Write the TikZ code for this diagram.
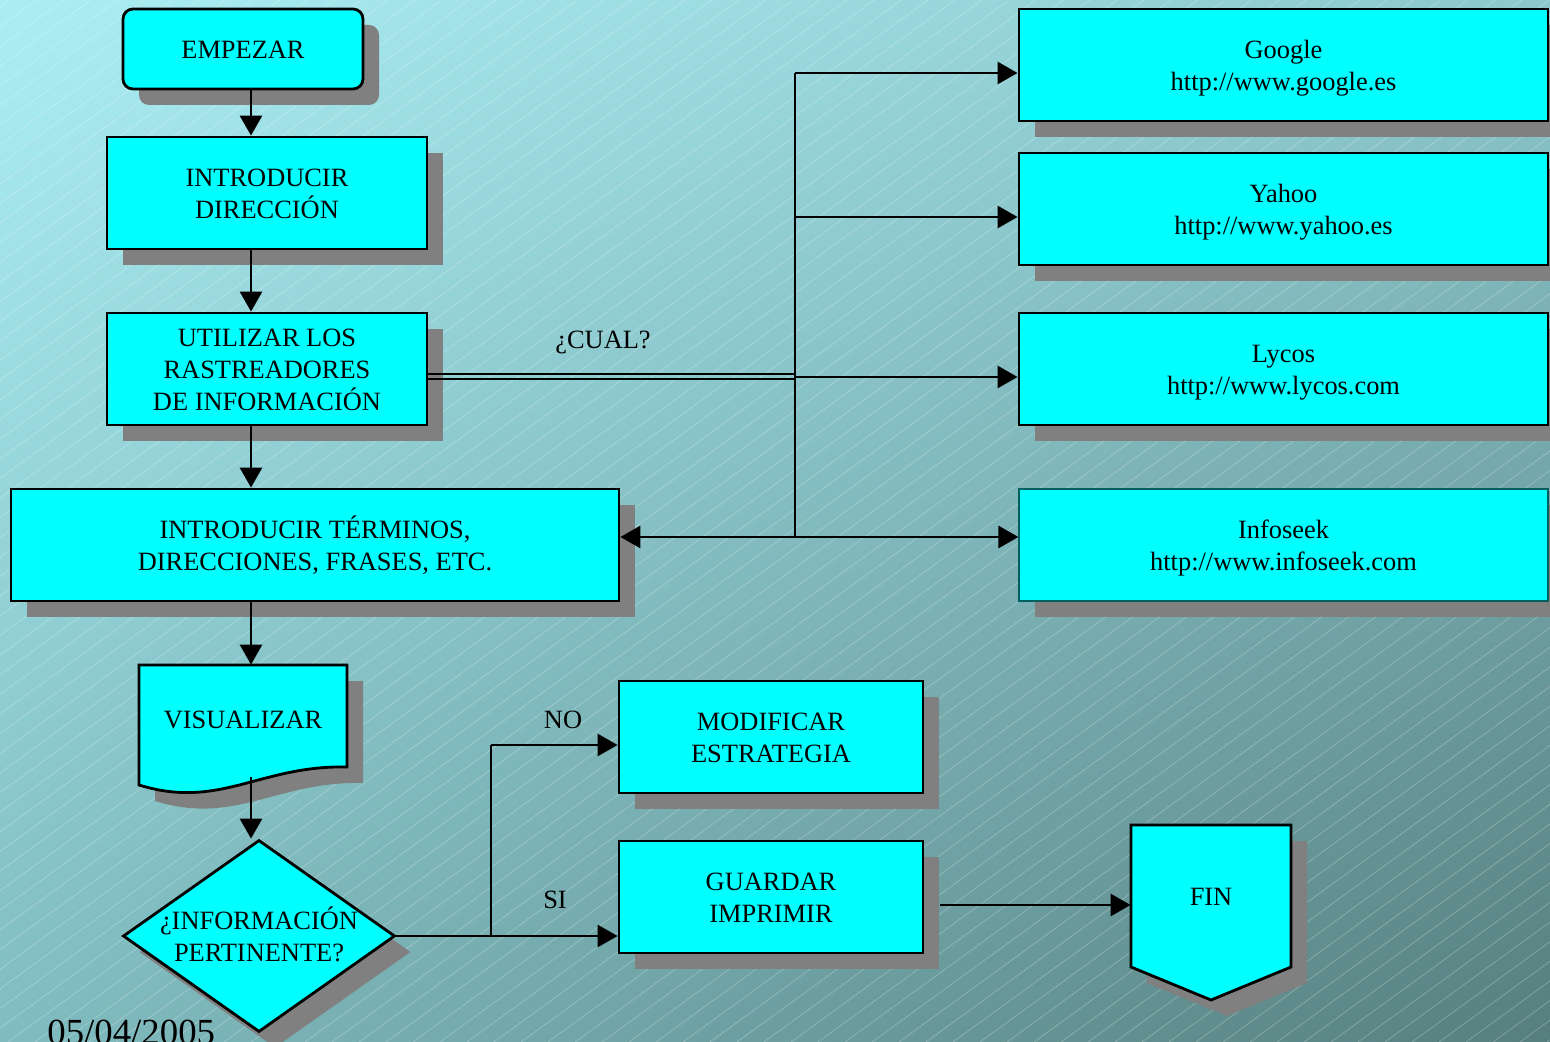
\documentclass[tikz,border=0pt]{standalone}
\usepackage{fontspec}
\setmainfont{Liberation Serif}
\usetikzlibrary{positioning}
\usetikzlibrary{arrows.meta}
\usetikzlibrary{shapes.geometric}
\usetikzlibrary{shadows}
\usetikzlibrary{shadings}
\usetikzlibrary{calc}

\definecolor{bgtl}{RGB}{170,238,244}
\definecolor{bgtr}{RGB}{140,200,205}
\definecolor{bgbl}{RGB}{128,188,192}
\definecolor{bgbr}{RGB}{86,126,126}
\definecolor{boxc}{RGB}{0,255,255}
\definecolor{shadc}{RGB}{128,128,128}
\definecolor{thinc}{RGB}{0,96,96}

\newcommand\docpath{(139,665) -- (347,665) -- (347,767) .. controls (260,765) and (220,810) .. (139,785) -- cycle}
\newcommand\finpath{(1131,825) -- (1291,825) -- (1291,967) -- (1211,1000) -- (1131,967) -- cycle}

\begin{document}
\begin{tikzpicture}[x=0.5pt, y=-0.5pt,
	txt/.style={font=\fontsize{13.2}{16}\selectfont, align=center, inner sep=0pt, text height=11.9pt, text depth=2.2pt},
	two/.style={text height=27.9pt},
	three/.style={text height=43.9pt},
	shadowed/.style={drop shadow={shadow xshift=8pt, shadow yshift=-8pt, fill=shadc, opacity=1}},
	box/.style={rectangle, draw=black, line width=1.4pt, fill=boxc, txt, shadowed},
	engine/.style={box, two, minimum width=264.5pt, minimum height=56pt},
	stepbox/.style={box, minimum width=160pt, minimum height=56pt},
	shapefill/.style={draw=black, line width=1.4pt, fill=boxc},
	line/.style={draw=black, line width=1.4pt},
	arrow/.style={line, -{Triangle[length=10pt, width=11pt]}}
]

% Background
\useasboundingbox (0,0) rectangle (1550,1042);
\shade[upper left=bgtl, upper right=bgtr, lower left=bgbl, lower right=bgbr] (0,0) rectangle (1550,1042);
\begin{scope}
	\clip (0,0) rectangle (1550,1042);
	\foreach \i in {-1450,-1423,...,1560}
		\draw[white, opacity=0.3, line width=0.3pt] (\i,1042) -- (\i+1433,0);
\end{scope}

% Left column
\node[box, rounded corners=5pt, minimum width=120pt, minimum height=40pt] (start) at (243,49) {EMPEZAR};
\node[stepbox, two] (intro) at (267,193) {INTRODUCIR\\DIRECCIÓN};
\node[stepbox, three] (util) at (267,369) {UTILIZAR LOS\\RASTREADORES\\DE INFORMACIÓN};
\node[box, two, minimum width=304pt, minimum height=56pt] (term) at (315,545) {INTRODUCIR TÉRMINOS,\\DIRECCIONES, FRASES, ETC.};

% Document shape
\fill[shadc, shift={(16,16)}] \docpath;
\draw[shapefill] \docpath;
\node[txt, minimum width=104pt, minimum height=54pt] (vis) at (243,719) {VISUALIZAR};

% Decision
\node[diamond, shapefill, aspect=1.4167, inner sep=0pt, minimum width=136pt, minimum height=96pt, shadowed] (dec) at (259,936) {};
\node[txt, two] (tdec) at (dec.center) {¿INFORMACIÓN\\PERTINENTE?};

% Search engines
\node[engine] (google) at (1283.5,65) {Google\\http://www.google.es};
\node[engine] (yahoo) at (1283.5,209) {Yahoo\\http://www.yahoo.es};
\node[engine] (lycos) at (1283.5,369) {Lycos\\http://www.lycos.com};
\node[engine, draw=thinc, line width=0.6pt] (info) at (1283.5,545) {Infoseek\\http://www.infoseek.com};

% Result boxes
\node[box, two, minimum width=152pt, minimum height=56pt] (modif) at (771,737) {MODIFICAR\\ESTRATEGIA};
\node[box, two, minimum width=152pt, minimum height=56pt] (save) at (771,897) {GUARDAR\\IMPRIMIR};

% End connector
\fill[shadc, shift={(16,16)}] \finpath;
\draw[shapefill] \finpath;
\node[txt, minimum width=80pt, minimum height=71pt] (fin) at (1211,896) {FIN};

% Labels
\node[txt] (lcual) at (603,339) {¿CUAL?};
\node[txt] (lno) at (563,719) {NO};
\node[txt] (lsi) at (555,899) {SI};
\node[font=\fontsize{18.4}{22}\selectfont, anchor=base west, inner sep=0pt] (date) at (47,1044) {05/04/2005};

% Main flow
\coordinate (col) at (251,0);
\draw[arrow] (start.south -| col) -- (intro.north -| col);
\draw[arrow] (intro.south -| col) -- (util.north -| col);
\draw[arrow] (util.south -| col) -- (term.north -| col);
\draw[arrow] (term.south -| col) -- (vis.north -| col);
\coordinate (vout) at (251,777);
\draw[arrow] (vout) -- (dec.north -| col);

% Engine branches
\coordinate (jg) at (795,73);
\coordinate (jy) at (795,217);
\coordinate (jl) at (795,377);
\coordinate (ji) at (795,537);
\draw[line] (jg) -- (ji);
\foreach \d in {-2.5,2.5}
	\draw[black, line width=1pt] ($(util.east |- jl)+(0,\d)$) -- ($(jl)+(0,\d)$);
\draw[arrow] (jg) -- (google.west |- jg);
\draw[arrow] (jy) -- (yahoo.west |- jy);
\draw[arrow] (jl) -- (lycos.west |- jl);
\draw[arrow] (ji) -- (info.west |- ji);
\draw[arrow] (ji) -- (term.east |- ji);

% Decision branches
\coordinate (jb) at (491,937);
\coordinate (jn) at (491,745);
\draw[arrow] (dec.east) -- (save.west |- dec.east);
\draw[line] (jb) -- (jn);
\draw[arrow] (jn) -- (modif.west |- jn);
\coordinate (jf) at (940,905);
\draw[arrow] (jf) -- (fin.west |- jf);

\end{tikzpicture}
\end{document}
